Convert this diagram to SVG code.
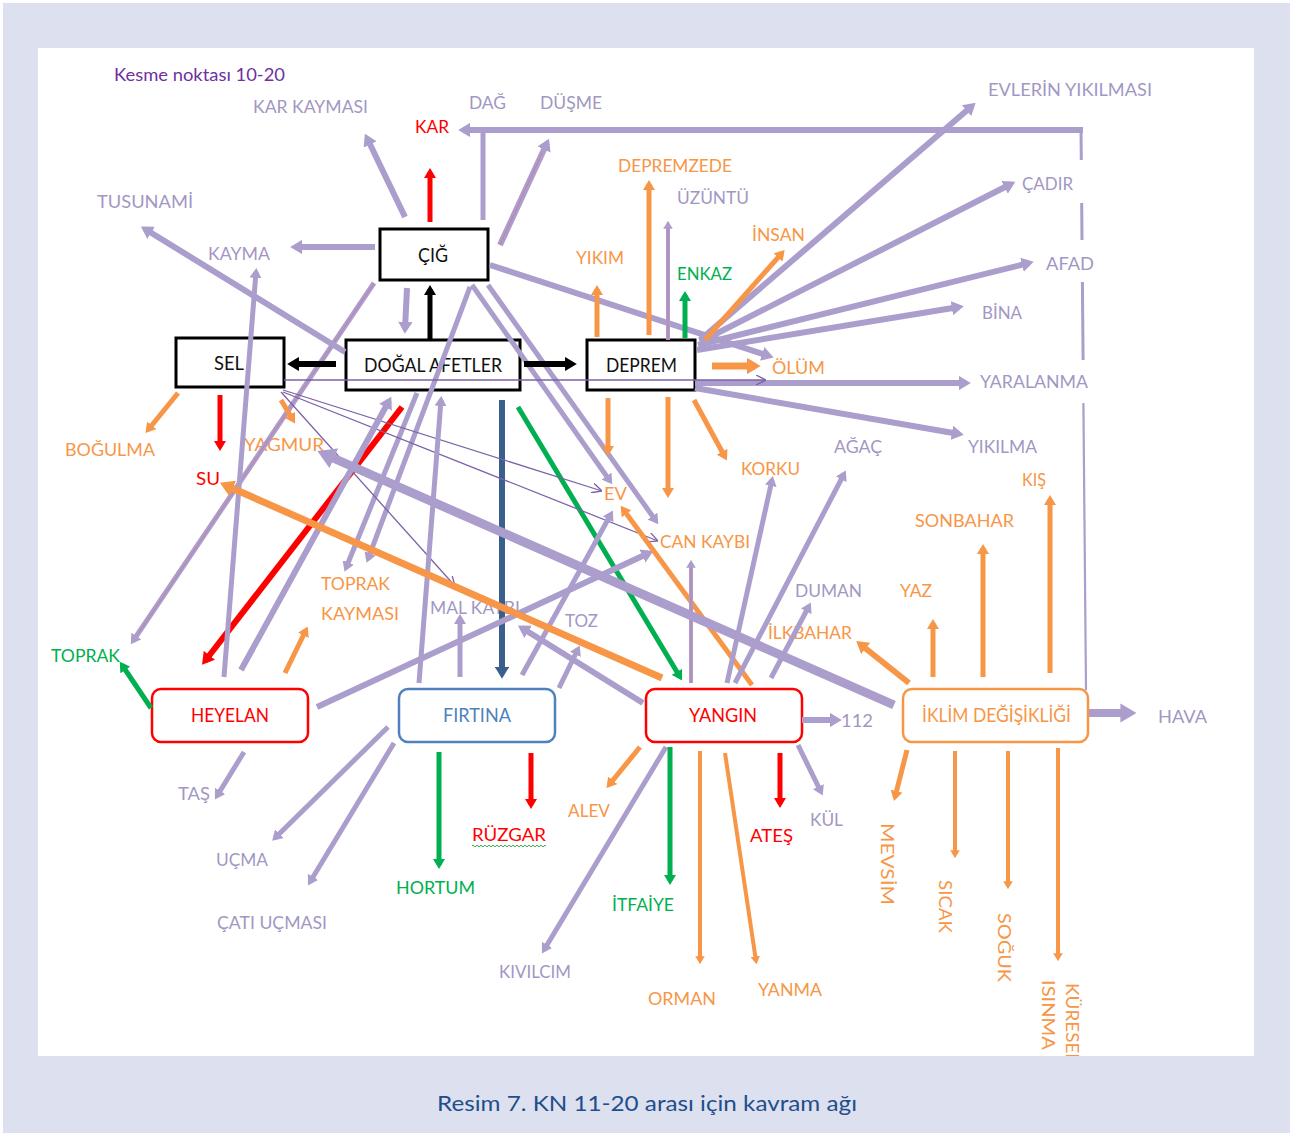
<svg xmlns="http://www.w3.org/2000/svg" width="1298" height="1136" viewBox="0 0 1298 1136">
<defs>
<style>
text{font-family:Lato,"Liberation Sans","DejaVu Sans",sans-serif;}
.lb{font-size:18px;}
.nd{font-size:20px;}
.lav{fill:#a297c4}.or{fill:#f79646}.rd{fill:#ff0000}.gr{fill:#00b050}.bk{fill:#111}.bl{fill:#4f81bd}
.c{fill:none;stroke-linecap:butt}
.sL{stroke:#ab9dcc;marker-end:url(#aL)}
.sO{stroke:#f79646;marker-end:url(#aO)}
.sR{stroke:#ff0000;marker-end:url(#aR)}
.sG{stroke:#00b050;marker-end:url(#aG)}
.sK{stroke:#000;marker-end:url(#aK)}
.sB{stroke:#3b5f8c;marker-end:url(#aB)}
.sP{stroke:#7b62a8;stroke-width:1.3;marker-end:url(#aP)}
.core{stroke:#c57f9c;stroke-width:0.9;fill:none}
.box{fill:#fff;stroke:#000;stroke-width:3}
.rbox{fill:#fff;stroke-width:2.5}
</style>
<marker id="aL" viewBox="0 0 10 12" refX="6" refY="6" markerWidth="2" markerHeight="2.4" orient="auto" markerUnits="strokeWidth"><path d="M0,0 L10,6 L0,12 z" fill="#ab9dcc"/></marker>
<marker id="aO" viewBox="0 0 10 12" refX="6" refY="6" markerWidth="2" markerHeight="2.4" orient="auto" markerUnits="strokeWidth"><path d="M0,0 L10,6 L0,12 z" fill="#f79646"/></marker>
<marker id="aR" viewBox="0 0 10 12" refX="6" refY="6" markerWidth="2" markerHeight="2.4" orient="auto" markerUnits="strokeWidth"><path d="M0,0 L10,6 L0,12 z" fill="#ff0000"/></marker>
<marker id="aG" viewBox="0 0 10 12" refX="6" refY="6" markerWidth="2" markerHeight="2.4" orient="auto" markerUnits="strokeWidth"><path d="M0,0 L10,6 L0,12 z" fill="#00b050"/></marker>
<marker id="aK" viewBox="0 0 10 12" refX="6" refY="6" markerWidth="2" markerHeight="2.4" orient="auto" markerUnits="strokeWidth"><path d="M0,0 L10,6 L0,12 z" fill="#000"/></marker>
<marker id="aB" viewBox="0 0 10 12" refX="6" refY="6" markerWidth="2" markerHeight="2.4" orient="auto" markerUnits="strokeWidth"><path d="M0,0 L10,6 L0,12 z" fill="#3b5f8c"/></marker>
<marker id="aP" viewBox="0 0 10 10" refX="10" refY="5" markerWidth="10" markerHeight="10" orient="auto" markerUnits="userSpaceOnUse"><path d="M0,0 L10,5 L0,10" fill="none" stroke="#7b62a8" stroke-width="1.3"/></marker>
<clipPath id="panel"><rect x="38" y="48" width="1216" height="1008"/></clipPath>
</defs>

<!-- page frame -->
<rect width="1298" height="1136" fill="#fff"/>
<rect x="3" y="3" width="1287" height="1130" fill="#dde0ef"/>
<rect x="38" y="48" width="1216" height="1008" fill="#fff"/>

<text x="114" y="81" font-size="18" fill="#7030a0" textLength="171" lengthAdjust="spacingAndGlyphs">Kesme noktası 10-20</text>

<!-- main boxes -->
<g id="n-cig"><rect class="box" x="380" y="229" width="108" height="51"/><text class="nd bk" x="418" y="262" textLength="30" lengthAdjust="spacingAndGlyphs">ÇIĞ</text></g>
<g id="n-sel"><rect class="box" x="176" y="338" width="108" height="49"/><text class="nd bk" x="214" y="370" textLength="30" lengthAdjust="spacingAndGlyphs">SEL</text></g>
<g id="n-dogal-afetler"><rect class="box" x="346" y="340" width="174" height="50"/><text class="nd bk" x="364" y="372" textLength="138" lengthAdjust="spacingAndGlyphs">DOĞAL AFETLER</text></g>
<g id="n-deprem"><rect class="box" x="587" y="340" width="108" height="50"/><text class="nd bk" x="606" y="372" textLength="71" lengthAdjust="spacingAndGlyphs">DEPREM</text></g>
<g id="n-heyelan"><rect class="rbox" x="152" y="689" width="156" height="53" rx="9" stroke="#ff0000"/><text class="nd rd" x="191" y="722" textLength="78" lengthAdjust="spacingAndGlyphs">HEYELAN</text></g>
<g id="n-firtina"><rect class="rbox" x="399" y="689" width="156" height="53" rx="9" stroke="#4f81bd"/><text class="nd bl" x="443" y="722" textLength="68" lengthAdjust="spacingAndGlyphs">FIRTINA</text></g>
<g id="n-yangin"><rect class="rbox" x="646" y="689" width="156" height="53" rx="9" stroke="#ff0000"/><text class="nd rd" x="689" y="722" textLength="68" lengthAdjust="spacingAndGlyphs">YANGIN</text></g>
<g id="n-iklim"><rect class="rbox" x="903" y="689" width="185" height="53" rx="9" stroke="#f79646"/><text class="nd or" x="922" y="722" textLength="149" lengthAdjust="spacingAndGlyphs">İKLİM DEĞİŞİKLİĞİ</text></g>

<!-- concept labels -->
<g id="t-kar-kaymasi"><text class="lb lav" x="253" y="113" textLength="115" lengthAdjust="spacingAndGlyphs">KAR KAYMASI</text></g>
<g id="t-dag"><text class="lb lav" x="469" y="109" textLength="37" lengthAdjust="spacingAndGlyphs">DAĞ</text></g>
<g id="t-dusme"><text class="lb lav" x="540" y="109" textLength="62" lengthAdjust="spacingAndGlyphs">DÜŞME</text></g>
<g id="t-kar"><text class="lb rd" x="415" y="133" textLength="34" lengthAdjust="spacingAndGlyphs">KAR</text></g>
<g id="t-tusunami"><text class="lb lav" x="97" y="208" textLength="96" lengthAdjust="spacingAndGlyphs">TUSUNAMİ</text></g>
<g id="t-kayma"><text class="lb lav" x="208" y="260" textLength="62" lengthAdjust="spacingAndGlyphs">KAYMA</text></g>
<g id="t-depremzede"><text class="lb or" x="618" y="172" textLength="114" lengthAdjust="spacingAndGlyphs">DEPREMZEDE</text></g>
<g id="t-uzuntu"><text class="lb lav" x="677" y="204" textLength="72" lengthAdjust="spacingAndGlyphs">ÜZÜNTÜ</text></g>
<g id="t-insan"><text class="lb or" x="752" y="241" textLength="53" lengthAdjust="spacingAndGlyphs">İNSAN</text></g>
<g id="t-yikim"><text class="lb or" x="576" y="264" textLength="48" lengthAdjust="spacingAndGlyphs">YIKIM</text></g>
<g id="t-enkaz"><text class="lb gr" x="677" y="280" textLength="55" lengthAdjust="spacingAndGlyphs">ENKAZ</text></g>
<g id="t-evlerin"><text class="lb lav" x="988" y="96" textLength="164" lengthAdjust="spacingAndGlyphs">EVLERİN  YIKILMASI</text></g>
<g id="t-cadir"><text class="lb lav" x="1022" y="190" textLength="51" lengthAdjust="spacingAndGlyphs">ÇADIR</text></g>
<g id="t-afad"><text class="lb lav" x="1046" y="270" textLength="48" lengthAdjust="spacingAndGlyphs">AFAD</text></g>
<g id="t-bina"><text class="lb lav" x="982" y="319" textLength="40" lengthAdjust="spacingAndGlyphs">BİNA</text></g>
<g id="t-olum"><text class="lb or" x="772" y="374" textLength="53" lengthAdjust="spacingAndGlyphs">ÖLÜM</text></g>
<g id="t-yaralanma"><text class="lb lav" x="980" y="388" textLength="108" lengthAdjust="spacingAndGlyphs">YARALANMA</text></g>
<g id="t-yikilma"><text class="lb lav" x="968" y="453" textLength="69" lengthAdjust="spacingAndGlyphs">YIKILMA</text></g>
<g id="t-agac"><text class="lb lav" x="834" y="453" textLength="48" lengthAdjust="spacingAndGlyphs">AĞAÇ</text></g>
<g id="t-korku"><text class="lb or" x="741" y="475" textLength="59" lengthAdjust="spacingAndGlyphs">KORKU</text></g>
<g id="t-kis"><text class="lb or" x="1022" y="486" textLength="24" lengthAdjust="spacingAndGlyphs">KIŞ</text></g>
<g id="t-sonbahar"><text class="lb or" x="915" y="527" textLength="99" lengthAdjust="spacingAndGlyphs">SONBAHAR</text></g>
<g id="t-bogulma"><text class="lb or" x="65" y="456" textLength="90" lengthAdjust="spacingAndGlyphs">BOĞULMA</text></g>
<g id="t-yagmur"><text class="lb or" x="244" y="451" textLength="80" lengthAdjust="spacingAndGlyphs">YAGMUR</text></g>
<g id="t-su"><text class="lb rd" x="196" y="485" textLength="24" lengthAdjust="spacingAndGlyphs">SU</text></g>
<g id="t-ev"><text class="lb or" x="604" y="500" textLength="23" lengthAdjust="spacingAndGlyphs">EV</text></g>
<g id="t-can-kaybi"><text class="lb or" x="660" y="548" textLength="90" lengthAdjust="spacingAndGlyphs">CAN KAYBI</text></g>
<g id="t-toprak-kaymasi"><text class="lb or" x="321" y="590" textLength="69" lengthAdjust="spacingAndGlyphs">TOPRAK</text><text class="lb or" x="321" y="620" textLength="78" lengthAdjust="spacingAndGlyphs">KAYMASI</text></g>
<g id="t-mal-kaybi"><text class="lb lav" x="430" y="614" textLength="90" lengthAdjust="spacingAndGlyphs">MAL KAYBI</text></g>
<g id="t-toz"><text class="lb lav" x="565" y="627" textLength="33" lengthAdjust="spacingAndGlyphs">TOZ</text></g>
<g id="t-duman"><text class="lb lav" x="795" y="597" textLength="67" lengthAdjust="spacingAndGlyphs">DUMAN</text></g>
<g id="t-yaz"><text class="lb or" x="900" y="597" textLength="32" lengthAdjust="spacingAndGlyphs">YAZ</text></g>
<g id="t-ilkbahar"><text class="lb or" x="768" y="639" textLength="84" lengthAdjust="spacingAndGlyphs">İLKBAHAR</text></g>
<g id="t-toprak"><text class="lb gr" x="51" y="662" textLength="69" lengthAdjust="spacingAndGlyphs">TOPRAK</text></g>
<g id="t-hava"><text class="lb lav" x="1158" y="723" textLength="49" lengthAdjust="spacingAndGlyphs">HAVA</text></g>
<g id="t-112"><text class="lb lav" x="841" y="727" textLength="32" lengthAdjust="spacingAndGlyphs">112</text></g>
<g id="t-tas"><text class="lb lav" x="178" y="800" textLength="32" lengthAdjust="spacingAndGlyphs">TAŞ</text></g>
<g id="t-alev"><text class="lb or" x="568" y="817" textLength="42" lengthAdjust="spacingAndGlyphs">ALEV</text></g>
<g id="t-kul"><text class="lb lav" x="810" y="826" textLength="33" lengthAdjust="spacingAndGlyphs">KÜL</text></g>
<g id="t-ruzgar"><text class="lb rd" x="472" y="841" textLength="74" lengthAdjust="spacingAndGlyphs">RÜZGAR</text><path d="M472,846 q1,-1.6 2,0 t2,0 t2,0 t2,0 t2,0 t2,0 t2,0 t2,0 t2,0 t2,0 t2,0 t2,0 t2,0 t2,0 t2,0 t2,0 t2,0 t2,0 t2,0 t2,0 t2,0 t2,0 t2,0 t2,0 t2,0 t2,0 t2,0 t2,0 t2,0 t2,0 t2,0 t2,0 t2,0 t2,0 t2,0 t2,0 t2,0" fill="none" stroke="#3aa64a" stroke-width="1"/></g>
<g id="t-ates"><text class="lb rd" x="750" y="842" textLength="43" lengthAdjust="spacingAndGlyphs">ATEŞ</text></g>
<g id="t-ucma"><text class="lb lav" x="216" y="866" textLength="52" lengthAdjust="spacingAndGlyphs">UÇMA</text></g>
<g id="t-hortum"><text class="lb gr" x="396" y="894" textLength="79" lengthAdjust="spacingAndGlyphs">HORTUM</text></g>
<g id="t-itfaiye"><text class="lb gr" x="612" y="911" textLength="62" lengthAdjust="spacingAndGlyphs">İTFAİYE</text></g>
<g id="t-cati-ucmasi"><text class="lb lav" x="217" y="929" textLength="110" lengthAdjust="spacingAndGlyphs">ÇATI UÇMASI</text></g>
<g id="t-kivilcim"><text class="lb lav" x="499" y="978" textLength="72" lengthAdjust="spacingAndGlyphs">KIVILCIM</text></g>
<g id="t-orman"><text class="lb or" x="648" y="1005" textLength="68" lengthAdjust="spacingAndGlyphs">ORMAN</text></g>
<g id="t-yanma"><text class="lb or" x="758" y="996" textLength="64" lengthAdjust="spacingAndGlyphs">YANMA</text></g>
<g id="t-mevsim"><text class="lb or" transform="translate(881,823) rotate(90)" textLength="82" lengthAdjust="spacingAndGlyphs">MEVSİM</text></g>
<g id="t-sicak"><text class="lb or" transform="translate(939,880) rotate(90)" textLength="53" lengthAdjust="spacingAndGlyphs">SICAK</text></g>
<g id="t-soguk"><text class="lb or" transform="translate(998,913) rotate(90)" textLength="69" lengthAdjust="spacingAndGlyphs">SOĞUK</text></g>
<g id="t-kuresel-isinma" clip-path="url(#panel)"><text class="lb or" transform="translate(1066,983) rotate(90)" textLength="80" lengthAdjust="spacingAndGlyphs">KÜRESEL</text><text class="lb or" transform="translate(1042,980) rotate(90)" textLength="70" lengthAdjust="spacingAndGlyphs">ISINMA</text></g>

<!-- connectors -->
<g id="connectors">
<!-- frame line from İKLİM DEĞİŞİKLİĞİ round to KAR -->
<path class="c" stroke="#ab9dcc" stroke-width="3" d="M1081,130 L1081.3,160 M1081.7,203 L1082,240 M1082.4,282 L1083.1,360"/>
<path class="c" stroke="#ab9dcc" stroke-width="2.2" d="M1083.4,403 L1086,690"/>
<path class="c sL" stroke-width="6" d="M1083,130 L463,130"/>
<path class="c" stroke="#ab9dcc" stroke-width="5" d="M483,220 L483,131"/>

<!-- ÇIĞ -->
<path class="c sL" stroke-width="6" d="M405,217 L367,138"/>
<path class="c sR" stroke-width="5" d="M430,222 L430,172"/>
<path class="c sL" stroke-width="6" d="M500,245 L547,143"/><path class="core" d="M500,245 L542,153"/>
<path class="c sL" stroke-width="6" d="M375,247 L295,247"/>
<path class="c sL" stroke-width="6" d="M490,265 L769,356"/>
<path class="c sL" stroke-width="6" d="M407,288 L405,329"/>
<path class="c sL" stroke-width="5" d="M374,283 L133,641"/><path class="core" d="M374,283 L138,634"/>
<path class="c sL" stroke-width="5" d="M470,287 L368,559"/>
<path class="c sL" stroke-width="5" d="M472,285 L610,481"/>
<path class="c sL" stroke-width="5" d="M488,285 L656,521"/>

<!-- DOĞAL AFETLER -->
<path class="c sK" stroke-width="5" d="M430,340 L430,289"/>
<path class="c sK" stroke-width="6" d="M336,364 L292,364"/>
<path class="c sK" stroke-width="6" d="M524,364 L572,364"/>
<path class="c sL" stroke-width="6" d="M345,352 L145,229"/>
<path class="c sR" stroke-width="6" d="M402,407 L205,661"/>
<path class="c sL" stroke-width="5" d="M417,393 L346,568"/>
<path class="c sB" stroke-width="6" d="M502,400 L502,674"/>
<path class="c sG" stroke-width="5" d="M518,407 L680,677"/>

<!-- DEPREM -->
<path class="c sL" stroke-width="6" d="M700,340 L972,106"/>
<path class="c sL" stroke-width="6" d="M700,342 L1011,184"/>
<path class="c sL" stroke-width="6" d="M698,345 L1029,263"/>
<path class="c sL" stroke-width="6" d="M697,350 L959,307"/>
<path class="c sL" stroke-width="6" d="M695,383 L966,383"/>
<path class="c sL" stroke-width="6" d="M695,388 L959,434"/>
<path class="c sO" stroke-width="5" d="M705,340 L782,253"/>
<path class="c sO" stroke-width="5" d="M597,337 L597,289"/>
<path class="c sO" stroke-width="5" d="M649,335 L649,184"/>
<path class="c sL" stroke-width="4" d="M668,340 L668,224"/><path class="core" d="M668,340 L668,228"/>
<path class="c sG" stroke-width="5" d="M685,338 L685,295"/>
<path class="c sO" stroke-width="7" d="M712,366 L755,366"/>
<path class="c sO" stroke-width="5" d="M608,398 L608,452"/>
<path class="c sO" stroke-width="5" d="M668,397 L668,494"/>
<path class="c sO" stroke-width="5" d="M694,400 L725,457"/>

<!-- SEL -->
<path class="c sO" stroke-width="5" d="M178,393 L148,430"/>
<path class="c sR" stroke-width="5" d="M220,395 L220,447"/>
<path class="c sO" stroke-width="5" d="M281,400 L293,420"/>
<path class="c sP" d="M284,380 L766,380"/>
<path class="c sP" d="M283,390 L602,491"/>
<path class="c sP" d="M283,392 L658,541"/>
<path class="c sP" d="M281,392 L455,586"/>

<!-- HEYELAN -->
<path class="c sL" stroke-width="5" d="M224,677 L256,272"/>
<path class="c sL" stroke-width="6" d="M241,670 L389,401"/>
<path class="c sL" stroke-width="6" d="M317,707 L649,553"/>
<path class="c sL" stroke-width="5" d="M244,752 L217,796"/>
<path class="c sG" stroke-width="5" d="M151,708 L122,665"/>
<path class="c sO" stroke-width="5" d="M285,673 L306,630"/>

<!-- FIRTINA -->
<path class="c sL" stroke-width="5" d="M419,683 L441,400"/>
<path class="c sL" stroke-width="5" d="M460,677 L460,618"/>
<path class="c sL" stroke-width="5" d="M522,675 L611,514"/>
<path class="c sL" stroke-width="5" d="M559,688 L578,649"/>
<path class="c sL" stroke-width="5" d="M388,727 L275,838"/>
<path class="c sL" stroke-width="5" d="M394,743 L310,882"/>
<path class="c sG" stroke-width="5" d="M439,752 L439,865"/>
<path class="c sR" stroke-width="5" d="M531,753 L531,805"/>

<!-- YANGIN -->
<path class="c sO" stroke-width="7" d="M662,678 L225,485"/>
<path class="c sL" stroke-width="6" d="M643,703 L522,628"/>
<path class="c sO" stroke-width="5" d="M752,685 L623,509"/>
<path class="c sL" stroke-width="4" d="M691,683 L691,563"/><path class="core" d="M691,683 L691,568"/>
<path class="c sL" stroke-width="5" d="M727,683 L772,480"/>
<path class="c sL" stroke-width="5" d="M735,683 L844,474"/>
<path class="c sL" stroke-width="5" d="M771,678 L809,606"/>
<path class="c sL" stroke-width="6" d="M802,720 L837,720"/>
<path class="c sO" stroke-width="5" d="M640,747 L609,785"/>
<path class="c sL" stroke-width="5" d="M666,747 L544,950"/>
<path class="c sG" stroke-width="5" d="M670,747 L670,881"/>
<path class="c sO" stroke-width="4" d="M700,751 L700,961"/>
<path class="c sO" stroke-width="4" d="M725,753 L756,961"/>
<path class="c sR" stroke-width="5" d="M780,753 L780,804"/>
<path class="c sL" stroke-width="5" d="M798,745 L821,792"/>

<!-- İKLİM DEĞİŞİKLİĞİ -->
<path class="c sL" stroke-width="9" d="M894,705 L324,454"/>
<path class="c sL" stroke-width="8" d="M1089,713 L1130,713"/>
<path class="c sO" stroke-width="6" d="M909,683 L860,644"/>
<path class="c sO" stroke-width="5" d="M933,677 L933,623"/>
<path class="c sO" stroke-width="5" d="M983,677 L983,548"/>
<path class="c sO" stroke-width="5" d="M1050,673 L1050,499"/>
<path class="c sO" stroke-width="5" d="M907,750 L895,797"/>
<path class="c sO" stroke-width="4" d="M955,751 L955,855"/>
<path class="c sO" stroke-width="4" d="M1008,751 L1008,886"/>
<path class="c sO" stroke-width="4" d="M1058,748 L1058,958"/>
</g>

<text x="437" y="1111" font-size="21" fill="#1f4e8c" textLength="420" lengthAdjust="spacingAndGlyphs">Resim 7. KN 11-20 arası için kavram ağı</text>
</svg>
